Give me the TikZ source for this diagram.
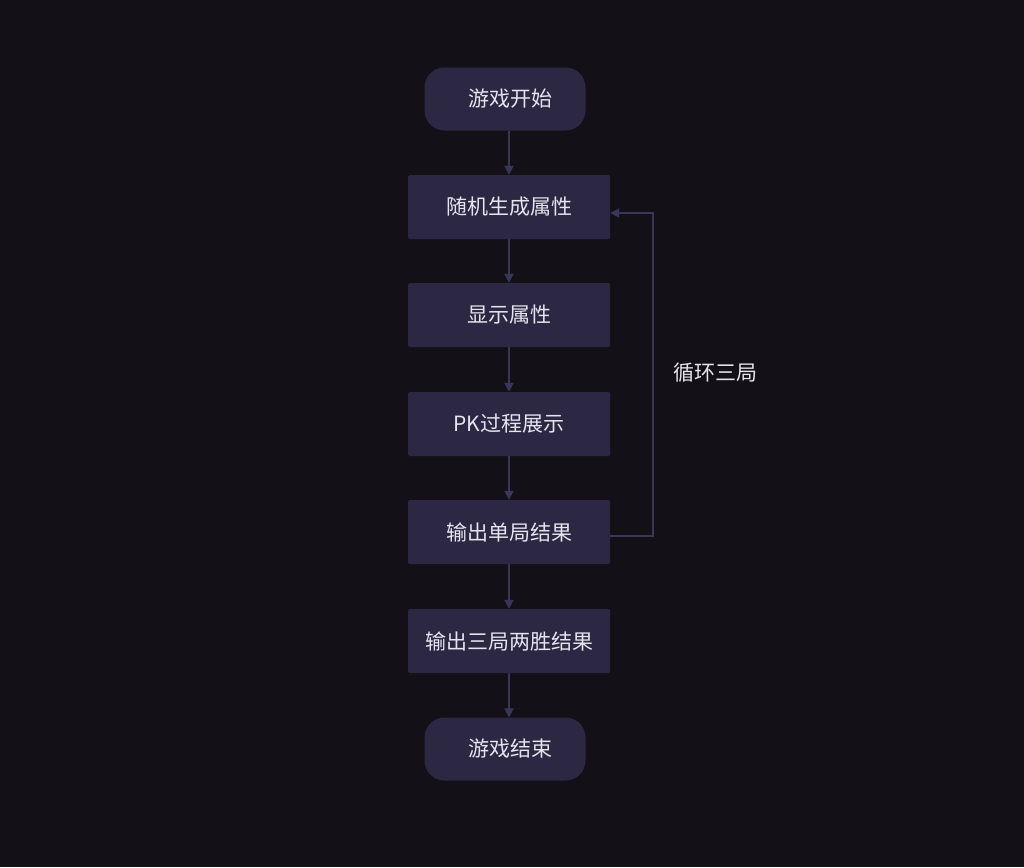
\documentclass[tikz,border=0pt]{standalone}
\usepackage{fontspec}
\setmainfont{Noto Sans CJK SC}
\usetikzlibrary{arrows.meta,positioning}
\definecolor{bgc}{HTML}{131117}
\definecolor{boxc}{HTML}{2C2843}
\definecolor{linec}{HTML}{3A3658}
\definecolor{txtc}{HTML}{E6E4EE}
\tikzset{>={Triangle[width=9pt,length=9pt]},
  stepbox/.style={fill=boxc, rounded corners=1.5pt, minimum width=202pt, minimum height=64pt, text=txtc, font=\fontsize{21pt}{24pt}\selectfont, inner sep=0pt},
  termbox/.style={stepbox, minimum width=161pt, minimum height=63pt, rounded corners=20pt},
  flow/.style={draw=linec, line width=1.8pt, ->}}
\begin{document}
\begin{tikzpicture}[x=1pt,y=-1pt]
  \fill[bgc] (0,0) rectangle (1024,867);
  \useasboundingbox (0,0) rectangle (1024,867);
  \node[termbox] (start) at (505,99) {\hspace{10pt}游戏开始};
  \node[stepbox] (gen) at (509,207) {随机生成属性};
  \node[stepbox] (show) at (509,315) {显示属性};
  \node[stepbox] (pk) at (509,424) {PK过程展示};
  \node[stepbox] (one) at (509,532) {输出单局结果};
  \node[stepbox] (all) at (509,641) {输出三局两胜结果};
  \node[termbox] (stop) at (505,749) {\hspace{10pt}游戏结束};
  \coordinate (loopa) at (653,536);
  \coordinate (loopb) at (653,213);
  \draw[flow] (start.south -| gen) -- (gen);
  \draw[flow] (gen) -- (show);
  \draw[flow] (show) -- (pk);
  \draw[flow] (pk) -- (one);
  \draw[flow] (one) -- (all);
  \draw[flow] (all) -- (stop.north -| all);
  \draw[flow] (one.east |- loopa) -- (loopa) -- (loopb) -- (gen.east |- loopb);
  \node[text=txtc, font=\fontsize{21pt}{24pt}\selectfont] (looplbl) at (715,373) {循环三局};
\end{tikzpicture}
\end{document}
